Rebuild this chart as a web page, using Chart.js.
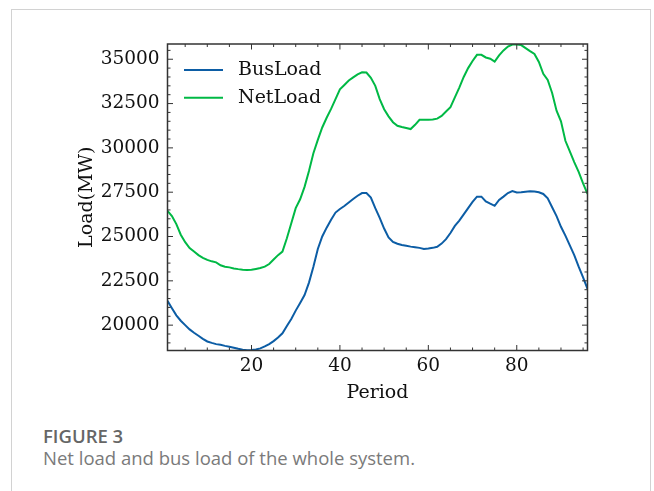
<!DOCTYPE html>
<html>
<head>
<meta charset="utf-8">
<script src="https://cdn.jsdelivr.net/npm/chart.js@4/dist/chart.umd.min.js"></script>
<style>
  html, body { margin: 0; padding: 0; background: #fff; }
  body { width: 654px; height: 491px; position: relative; overflow: hidden; }
  .panel {
    position: absolute; left: 11px; top: 9px; width: 640px; height: 500px;
    border: 1.5px solid #d2d2d2; border-bottom: none; box-sizing: border-box;
  }
  #chart { position: absolute; left: 0; top: 0; }
  .fig-label {
    position: absolute; left: 43px; top: 425px; line-height: 22px;
    font-family: "Open Sans", sans-serif; font-weight: 600; font-size: 18.5px; color: #666;
  }
  .fig-caption {
    position: absolute; left: 43px; top: 446.5px; line-height: 22px;
    font-family: "Open Sans", sans-serif; font-size: 18.5px; color: #7a7a7a;
  }
</style>
</head>
<body>
<div class="panel"></div>
<canvas id="chart" width="654" height="420"></canvas>
<div class="fig-label">FIGURE 3</div>
<div class="fig-caption">Net load and bus load of the whole system.</div>
<script>
// Periods 1..96 of the day
const periods = Array.from({length: 96}, (_, i) => i + 1);

// Bus load (MW)
const busLoad = [
  21370, 20950, 20550, 20250, 20000, 19760, 19570, 19400, 19230, 19080,
  19000, 18930, 18890, 18830, 18780, 18730, 18670, 18620, 18580, 18600,
  18630, 18690, 18800, 18930, 19100, 19300, 19540, 19950, 20350, 20820,
  21250, 21700, 22400, 23300, 24300, 25000, 25500, 25950, 26350, 26550,
  26720, 26920, 27120, 27300, 27450, 27450, 27200, 26600, 26050, 25450,
  24950, 24700, 24590, 24520, 24480, 24430, 24400, 24360, 24300, 24320,
  24360, 24420, 24600, 24850, 25200, 25600, 25900, 26250, 26600, 26950,
  27250, 27250, 26980, 26850, 26730, 27060, 27250, 27450, 27560, 27480,
  27500, 27530, 27550, 27540, 27500, 27400, 27160, 26650, 26150, 25550,
  25050, 24500, 23950, 23300, 22700, 22050
];

// Net load (MW)
const netLoad = [
  26450, 26150, 25700, 25100, 24680, 24350, 24150, 23950, 23800, 23680,
  23600, 23540, 23380, 23300, 23260, 23200, 23160, 23130, 23110, 23120,
  23170, 23220, 23300, 23450, 23700, 23950, 24150, 24900, 25750, 26600,
  27100, 27800, 28700, 29700, 30450, 31150, 31700, 32200, 32750, 33300,
  33550, 33800, 33980, 34150, 34260, 34250, 33950, 33500, 32750, 32180,
  31780, 31450, 31250, 31180, 31120, 31060, 31300, 31580, 31580, 31580,
  31600, 31650, 31800, 32050, 32300, 32850, 33400, 34000, 34500, 34900,
  35250, 35250, 35100, 35030, 34870, 35220, 35500, 35720, 35830, 35830,
  35800, 35630, 35460, 35300, 34850, 34180, 33830, 33100, 32100, 31500,
  30400, 29800, 29200, 28650, 28000, 27400
];

const xTicks = [20, 40, 60, 80];
const yTicks = [20000, 22500, 25000, 27500, 30000, 32500, 35000];
const seriesNames = ['BusLoad', 'NetLoad'];

const SERIF = '"DejaVu Serif", serif';
const INK = '#333333';

// Inward major/minor ticks on all four sides, plus the axes frame
const frameTicks = {
  id: 'frameTicks',
  afterDatasetsDraw(chart) {
    const { ctx, chartArea: a, scales: { x, y } } = chart;
    const MAJ = 5.5, MIN = 3;
    ctx.save();
    ctx.strokeStyle = INK;
    ctx.lineWidth = 1;
    ctx.beginPath();
    const seg = (x0, y0, x1, y1) => { ctx.moveTo(x0, y0); ctx.lineTo(x1, y1); };
    const xTick = (v, len) => {
      const p = x.getPixelForValue(v);
      seg(p, a.bottom, p, a.bottom - len);
      seg(p, a.top, p, a.top + len);
    };
    const yTick = (v, len) => {
      const p = y.getPixelForValue(v);
      seg(a.left, p, a.left + len, p);
      seg(a.right, p, a.right - len, p);
    };
    xTicks.forEach(v => xTick(v, MAJ));
    yTicks.forEach(v => yTick(v, MAJ));
    for (let v = 5; v < x.max; v += 5) if (!xTicks.includes(v) && v > x.min) xTick(v, MIN);
    for (let v = 19000; v < y.max; v += 500) if (!yTicks.includes(v) && v > y.min) yTick(v, MIN);
    ctx.stroke();
    ctx.lineWidth = 1.5;
    ctx.strokeRect(a.left, a.top, a.right - a.left, a.bottom - a.top);
    ctx.restore();
  }
};

// Legend in the upper-left corner of the plot, matplotlib style
const cornerLegend = {
  id: 'cornerLegend',
  afterDatasetsDraw(chart) {
    const { ctx, chartArea: a } = chart;
    ctx.save();
    ctx.font = '19px ' + SERIF;
    ctx.textBaseline = 'middle';
    ctx.textAlign = 'left';
    chart.data.datasets.forEach((ds, i) => {
      const rowY = a.top + 26 + i * 27.7;
      ctx.strokeStyle = ds.borderColor;
      ctx.lineWidth = ds.borderWidth;
      ctx.beginPath();
      ctx.moveTo(a.left + 16.5, rowY);
      ctx.lineTo(a.left + 55.5, rowY);
      ctx.stroke();
      ctx.fillStyle = '#111';
      ctx.fillText(ds.label, a.left + 70.5, rowY);
    });
    ctx.restore();
  }
};

new Chart(document.getElementById('chart'), {
  type: 'line',
  data: {
    datasets: [
      {
        label: seriesNames[0],
        data: periods.map((p, i) => ({ x: p, y: busLoad[i] })),
        borderColor: '#0C5DA5', borderWidth: 2, pointRadius: 0, tension: 0, fill: false
      },
      {
        label: seriesNames[1],
        data: periods.map((p, i) => ({ x: p, y: netLoad[i] })),
        borderColor: '#00B945', borderWidth: 2, pointRadius: 0, tension: 0, fill: false
      }
    ]
  },
  options: {
    responsive: false,
    devicePixelRatio: 1,
    animation: false,
    layout: { padding: { top: 44, right: 66.5, bottom: 0, left: 0 } },
    plugins: { legend: { display: false }, tooltip: { enabled: false } },
    scales: {
      x: {
        type: 'linear', min: 1, max: 96,
        afterBuildTicks: s => { s.ticks = xTicks.map(v => ({ value: v })); },
        afterFit: s => { s.height = 69.5; },
        grid: { display: false, drawTicks: false },
        border: { display: false },
        ticks: { color: '#111', font: { family: SERIF, size: 18.5 }, padding: 5, maxRotation: 0 },
        title: { display: true, text: 'Period', color: '#111', font: { family: SERIF, size: 19 }, padding: { top: 0, bottom: 16 } }
      },
      y: {
        type: 'linear', min: 18570, max: 35860,
        afterBuildTicks: s => { s.ticks = yTicks.map(v => ({ value: v })); },
        afterFit: s => { s.width = 167.5; },
        grid: { display: false, drawTicks: false },
        border: { display: false },
        ticks: { color: '#111', font: { family: SERIF, size: 18.5 }, padding: 8, callback: v => String(v) },
        title: { display: true, text: 'Load(MW)', color: '#111', font: { family: SERIF, size: 19 }, padding: { top: 76, bottom: 0 } }
      }
    }
  },
  plugins: [frameTicks, cornerLegend]
});
</script>
</body>
</html>
